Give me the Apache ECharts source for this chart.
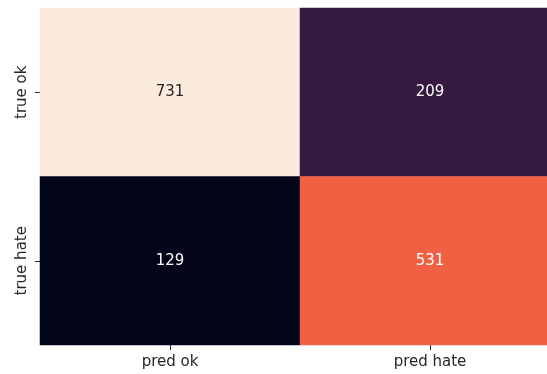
<!DOCTYPE html>
<html>
<head>
<meta charset="utf-8">
<script src="https://cdn.jsdelivr.net/npm/echarts@6/dist/echarts.min.js"></script>
<style>
  html, body { margin: 0; padding: 0; background: #ffffff; overflow: hidden; }
  #chart { width: 560px; height: 374px; }
</style>
</head>
<body>
<div id="chart"></div>
<script>
// Confusion matrix: rows are true classes, columns are predicted classes
const predLabels = ['pred ok', 'pred hate'];
const trueLabels = ['true ok', 'true hate'];
const rowTrueOk = [731, 209];
const rowTrueHate = [129, 531];

// "rocket" style sequential palette, dark to light
const rocket = [
  '#03051A', '#1C0F2C', '#35193E', '#4C1D4B', '#651E55', '#801E5A',
  '#9C1B5C', '#BC1B56', '#D82A49', '#E9473E', '#F06043', '#F37E58',
  '#F59B73', '#F6B794', '#F8D2B9', '#FAEBDD'
];

const rows = [rowTrueOk, rowTrueHate];
const all = rows.flat();
const vMin = Math.min(...all);
const vMax = Math.max(...all);

const cells = [];
rows.forEach((row, yi) => {
  row.forEach((v, xi) => {
    const light = (v - vMin) / (vMax - vMin) > 0.85;
    cells.push({
      value: [xi, yi, v],
      label: { color: light ? '#262626' : '#ffffff' }
    });
  });
});

const chart = echarts.init(document.getElementById('chart'), null, { renderer: 'canvas' });
chart.setOption({
  animation: false,
  backgroundColor: '#ffffff',
  textStyle: { fontFamily: 'DejaVu Sans' },
  grid: { left: 40, top: 8, width: 520, height: 337, containLabel: false },
  xAxis: {
    type: 'category',
    data: predLabels,
    axisLine: { show: false },
    axisTick: { show: true, alignWithLabel: true, length: 5, lineStyle: { color: '#262626', width: 1 } },
    axisLabel: { color: '#262626', fontSize: 15, margin: 10, fontFamily: 'DejaVu Sans' },
    splitLine: { show: false }
  },
  yAxis: {
    type: 'category',
    data: trueLabels,
    inverse: true,
    axisLine: { show: false },
    axisTick: { show: true, alignWithLabel: true, length: 5, lineStyle: { color: '#262626', width: 1 } },
    axisLabel: { color: '#262626', fontSize: 15, margin: 10, rotate: 90, fontFamily: 'DejaVu Sans' },
    splitLine: { show: false }
  },
  visualMap: {
    show: false,
    type: 'continuous',
    min: vMin,
    max: vMax,
    dimension: 2,
    inRange: { color: rocket }
  },
  series: [{
    type: 'heatmap',
    data: cells,
    label: {
      show: true,
      fontSize: 15,
      fontFamily: 'DejaVu Sans',
      formatter: p => String(p.value[2])
    },
    itemStyle: { borderWidth: 0 },
    emphasis: { disabled: true }
  }]
});
</script>
</body>
</html>
